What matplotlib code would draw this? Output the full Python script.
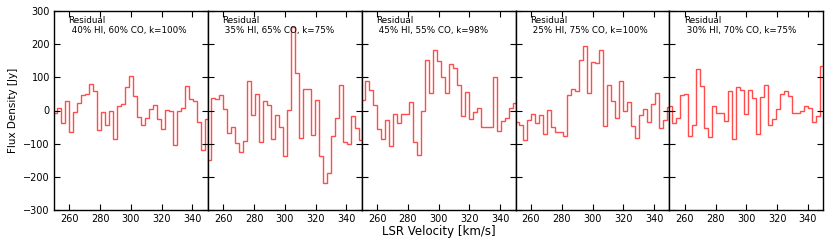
import numpy as np
import matplotlib
matplotlib.use("Agg")
import matplotlib.pyplot as plt

# channel grid (LSR velocity, km/s)
v_start = 250.6
chan_width = 2.6
n_chan = 39
velocity = np.round(v_start + chan_width * np.arange(n_chan), 1)

labels = [
    "Residual\n 40% HI, 60% CO, k=100%",
    "Residual\n 35% HI, 65% CO, k=75%",
    "Residual\n 45% HI, 55% CO, k=98%",
    "Residual\n 25% HI, 75% CO, k=100%",
    "Residual\n 30% HI, 70% CO, k=75%",
]

resid_1 = [-9, 9, -39, 28, -64, -4, 24, 47, 51, 79, 58, -59, -6, -44, -1, -87, 13, 21, 71, 104,
           45, -19, -45, -24, 6, 18, -26, -55, 1, -2, -104, -3, 7, 74, 36, 28, -35, -120, -27]
resid_2 = [-150, 38, 36, 46, 6, -69, -49, -99, -124, -91, 88, -15, 51, -96, 29, 17, -87, -15, -49, -138,
           3, 251, 113, -84, 65, 65, -74, 31, -136, -220, -187, -77, -24, 76, -96, -102, -17, -52, -89]
resid_3 = [32, 88, 63, 17, -57, -87, -30, -107, -10, -39, -10, -10, 25, -94, -135, -1, 151, 53, 181, 149,
           100, 54, 139, 129, 76, -16, 56, -26, -6, 7, -51, -49, -50, 102, -63, -31, -23, 9, 24]
resid_4 = [-36, -43, -90, -29, -11, -39, -13, -71, 1, -51, -66, -66, -77, 48, 66, 58, 152, 193, 54, 146,
           143, 181, -47, 76, 28, -24, 88, 0, 27, -46, -83, -14, 6, -35, 21, 54, -52, -29, 10]
resid_5 = [15, -37, -22, 46, 50, -77, -45, 126, 74, -54, -79, 15, -8, -7, -33, 60, -86, 70, 63, -11,
           62, 37, -72, 41, 78, -45, -26, 6, 51, 60, 45, -9, -7, -2, 15, 9, -36, -16, 135]
residuals = [resid_1, resid_2, resid_3, resid_4, resid_5]

xticks = [260, 280, 300, 320, 340]
yticks = [-300, -200, -100, 0, 100, 200, 300]

# bin edges from channel centres
mids = (velocity[:-1] + velocity[1:]) / 2
edges = np.concatenate([[velocity[0] - chan_width / 2], mids, [velocity[-1] + chan_width / 2]])

fig = plt.figure(figsize=(8.3, 2.48), dpi=100)
left, right = 54 / 830, 823.3 / 830
bottom, top = 1 - 210 / 248, 1 - 11 / 248
w = (right - left) / 5

axes = []
for i in range(5):
    ax = fig.add_axes([left + i * w, bottom, w, top - bottom])
    ax.stairs(residuals[i], edges, baseline=None, color="red", alpha=0.7, lw=1.0)
    ax.set_xlim(250, 350)
    ax.set_ylim(-300, 300)
    ax.set_xticks(xticks)
    ax.set_yticks(yticks)
    ax.tick_params(direction="in", top=True, right=True, length=4, width=0.8,
                   labelsize=7, pad=3)
    if i > 0:
        ax.tick_params(labelleft=False)
    for s in ax.spines.values():
        s.set_linewidth(1.0)
    ax.text(0.095, 0.975, labels[i], transform=ax.transAxes, ha="left", va="top",
            fontsize=6.3, linespacing=1.2)
    axes.append(ax)

fig.text((left + right) / 2, 1 - 232 / 248, "LSR Velocity [km/s]", ha="center", va="center",
         fontsize=8.5)
fig.text(13 / 830, (bottom + top) / 2, "Flux Density [Jy]", rotation=90, ha="center",
         va="center", fontsize=7.5)

fig.savefig("out.png", dpi=100)
